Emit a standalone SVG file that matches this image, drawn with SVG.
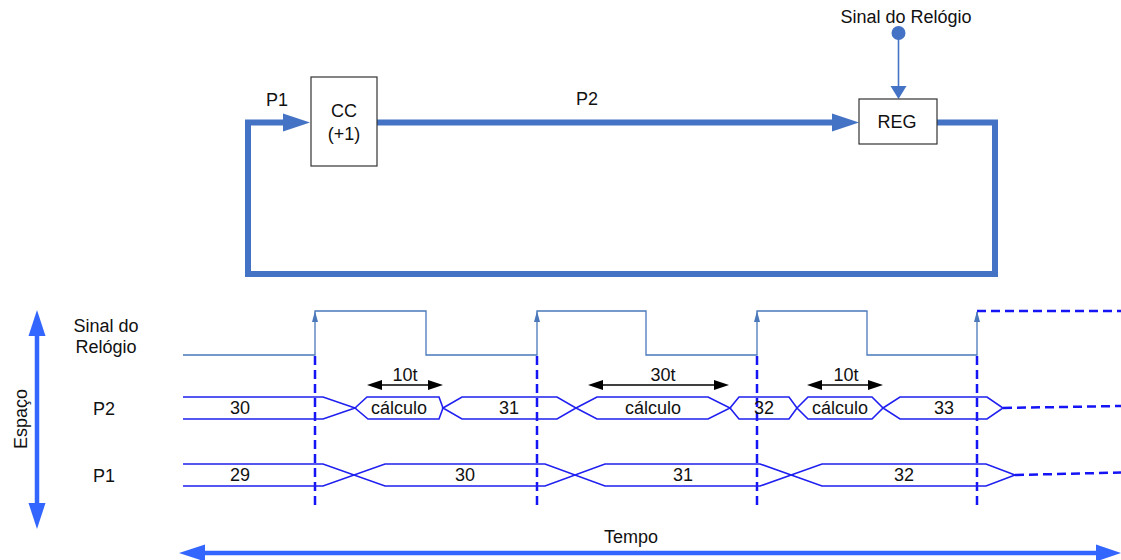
<svg xmlns="http://www.w3.org/2000/svg" width="1121" height="560" viewBox="0 0 1121 560">
<style>
text{font-family:"Liberation Sans",Arial,sans-serif;font-size:18px;fill:#111;text-anchor:middle}
.box{fill:#fff;stroke:#333;stroke-width:1.2}
.loop{fill:none;stroke:#4472C4;stroke-width:6}
.loopfill{fill:#4472C4}
.thin{fill:none;stroke:#4472C4;stroke-width:1.6}
.clk{fill:none;stroke:#4A78BA;stroke-width:1.3}
.bus{fill:none;stroke:#1F1FF0;stroke-width:1.6}
.dash{fill:none;stroke:#1414F5;stroke-width:2.5;stroke-dasharray:9 5}
.dim{fill:none;stroke:#000;stroke-width:1.5}
.axis{fill:none;stroke:#3366FF;stroke-width:4.5}
.axisfill{fill:#3366FF}
</style>
<rect width="1121" height="560" fill="#fff"/>

<g id="connectors">
  <!-- feedback loop -->
  <polyline class="loop" points="283,122.5 248,122.5 248,274 995,274 995,122.5 937,122.5"/>
  <polygon class="loopfill" points="310,122.5 283,113.5 283,131.5"/>
  <line class="loop" x1="377" y1="122.5" x2="833" y2="122.5"/>
  <polygon class="loopfill" points="859,122.5 832,113.5 832,131.5"/>
  <!-- clock input -->
  <circle cx="898.5" cy="33" r="7" fill="#4472C4"/>
  <line class="thin" x1="898.5" y1="33" x2="898.5" y2="87"/>
  <polygon class="loopfill" points="898.5,99 890.5,86 906.5,86"/>
</g>

<g id="node-cc">
  <rect class="box" x="311" y="77" width="66" height="89"/>
  <text x="344" y="117">CC</text>
  <text x="344" y="140">(+1)</text>
</g>
<g id="node-reg">
  <rect class="box" x="859" y="99" width="78" height="45"/>
  <text x="897" y="128">REG</text>
</g>
<g id="labels-top">
  <text x="277" y="106">P1</text>
  <text x="587" y="105">P2</text>
  <text x="906" y="23">Sinal do Relógio</text>
</g>

<g id="timing">
  <!-- clock waveform -->
  <polyline class="clk" points="183,355 315,355 315,311 426,311 426,355 537,355 537,311 646,311 646,355 757,355 757,311 867,311 867,355 977,355 977,312"/>
  <g fill="#4A78BA">
    <polygon points="315,311 312,322 318,322"/>
    <polygon points="537,311 534,322 540,322"/>
    <polygon points="757,311 754,322 760,322"/>
    <polygon points="977,311 974,322 980,322"/>
  </g>
  <line class="dash" x1="977" y1="311" x2="1121" y2="311"/>

  <!-- vertical dashed clock edges -->
  <line class="dash" x1="315" y1="356" x2="315" y2="510"/>
  <line class="dash" x1="537" y1="356" x2="537" y2="510"/>
  <line class="dash" x1="757" y1="356" x2="757" y2="510"/>
  <line class="dash" x1="977" y1="356" x2="977" y2="510"/>

  <!-- P2 bus -->
  <path class="bus" d="M183,397 H323 L355,408 L323,419 H183"/>
  <path class="bus" d="M355,408 L367,397 H439 L443,408 L439,419 H368 Z"/>
  <path class="bus" d="M443,408 L462,397 H557 L576,408 L557,419 H462 Z"/>
  <path class="bus" d="M576,408 L597,397 H708 L730,408 L708,419 H597 Z"/>
  <path class="bus" d="M730,408 L739,397 H789 L797,408 L789,419 H739 Z"/>
  <path class="bus" d="M797,408 L808,397 H872 L883,408 L872,419 H808 Z"/>
  <path class="bus" d="M883,408 L900,397 H987 L1003,408 L987,419 H900 Z"/>
  <line class="dash" x1="1003" y1="408" x2="1121" y2="406"/>

  <!-- P1 bus -->
  <path class="bus" d="M183,464 H323 L385,486 H545 L605,464 H760 L822,486 H986 L1015,475"/>
  <path class="bus" d="M183,486 H323 L385,464 H545 L605,486 H760 L822,464 H986 L1015,475"/>
  <line class="dash" x1="1015" y1="475" x2="1121" y2="472.5"/>

  <!-- bus values -->
  <text x="240" y="414">30</text>
  <text x="399" y="414">cálculo</text>
  <text x="509" y="414">31</text>
  <text x="653" y="414">cálculo</text>
  <text x="764" y="414">32</text>
  <text x="840" y="414">cálculo</text>
  <text x="944" y="414">33</text>
  <text x="240" y="481">29</text>
  <text x="465" y="481">30</text>
  <text x="683" y="481">31</text>
  <text x="904" y="481">32</text>

  <!-- duration arrows -->
  <g fill="#000">
    <line class="dim" x1="380" y1="385" x2="430" y2="385"/>
    <polygon points="367,385 382,380 382,390"/>
    <polygon points="443,385 428,380 428,390"/>
    <line class="dim" x1="601" y1="385" x2="716" y2="385"/>
    <polygon points="588,385 603,380 603,390"/>
    <polygon points="729,385 714,380 714,390"/>
    <line class="dim" x1="820" y1="385" x2="870" y2="385"/>
    <polygon points="807,385 822,380 822,390"/>
    <polygon points="883,385 868,380 868,390"/>
  </g>
  <text x="405" y="381">10t</text>
  <text x="663" y="381">30t</text>
  <text x="846" y="381">10t</text>

  <!-- row labels -->
  <text x="106" y="332">Sinal do</text>
  <text x="106" y="353">Relógio</text>
  <text x="104" y="415">P2</text>
  <text x="104" y="482">P1</text>
</g>

<g id="axes">
  <line class="axis" x1="37" y1="334" x2="37" y2="505"/>
  <polygon class="axisfill" points="37,310 28.5,336 45.5,336"/>
  <polygon class="axisfill" points="37,529 28.5,503 45.5,503"/>
  <text x="0" y="0" transform="translate(27,419) rotate(-90)">Espaço</text>
  <line class="axis" x1="203" y1="553" x2="1098" y2="553"/>
  <polygon class="axisfill" points="179,553 205,544.5 205,561.5"/>
  <polygon class="axisfill" points="1121,553 1096,544.5 1096,561.5"/>
  <text x="631" y="543">Tempo</text>
</g>
</svg>
